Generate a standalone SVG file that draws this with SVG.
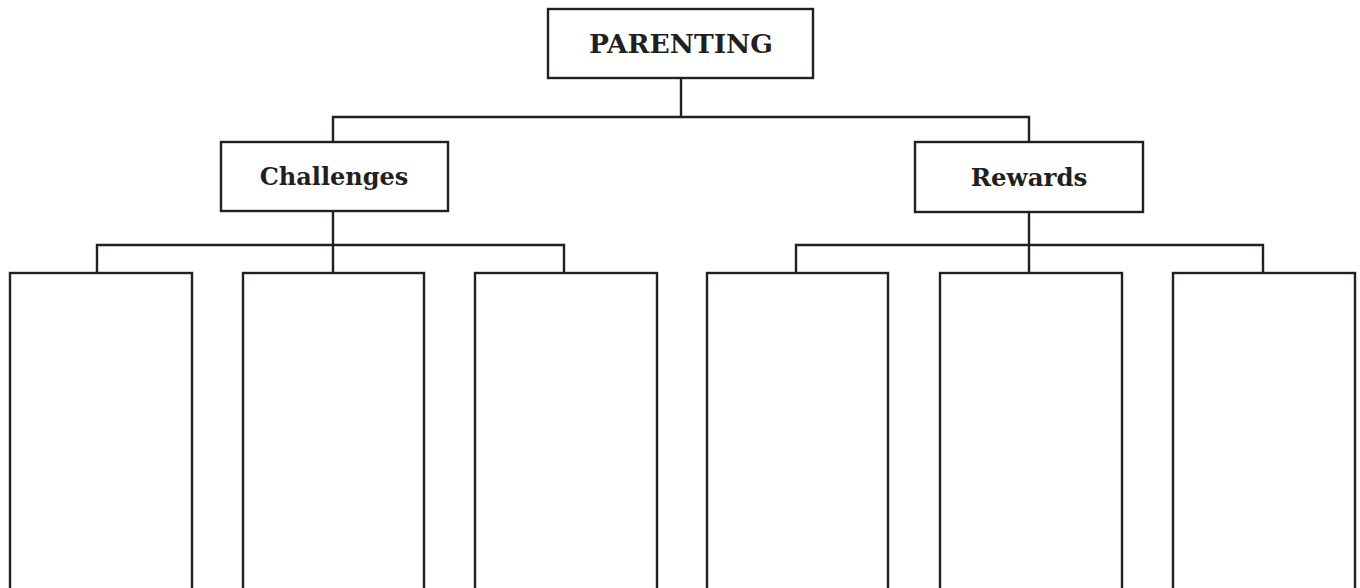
<svg xmlns="http://www.w3.org/2000/svg" width="1360" height="588" viewBox="0 0 1360 588">
<style>
.box{fill:#fff;stroke:#231f20;stroke-width:2.4}
.ln{fill:none;stroke:#231f20;stroke-width:2.4}
.t{font-family:"DejaVu Serif","Liberation Serif",serif;font-weight:bold;fill:#231f20;text-anchor:middle}
</style>
<rect width="1360" height="588" fill="#fff"/>
<g id="connectors">
<path class="ln" d="M681 78V117M333 142V117H1029V142"/>
<path class="ln" d="M333 211V273M97 273V245H564V273"/>
<path class="ln" d="M1029 212V273M796 273V245H1263V273"/>
</g>
<g id="parenting"><rect class="box" x="548" y="9" width="265" height="69"/><text class="t" x="681" y="53" font-size="26.5">PARENTING</text></g>
<g id="challenges"><rect class="box" x="221" y="142" width="227" height="69"/><text class="t" x="334" y="185" font-size="24">Challenges</text></g>
<g id="rewards"><rect class="box" x="915" y="142" width="228" height="70"/><text class="t" x="1029" y="186" font-size="24.5">Rewards</text></g>
<g id="c1"><rect class="box" x="10" y="273" width="182" height="330"/></g>
<g id="c2"><rect class="box" x="243" y="273" width="181" height="330"/></g>
<g id="c3"><rect class="box" x="475" y="273" width="182" height="330"/></g>
<g id="r1"><rect class="box" x="707" y="273" width="181" height="330"/></g>
<g id="r2"><rect class="box" x="940" y="273" width="182" height="330"/></g>
<g id="r3"><rect class="box" x="1173" y="273" width="182" height="330"/></g>
</svg>
